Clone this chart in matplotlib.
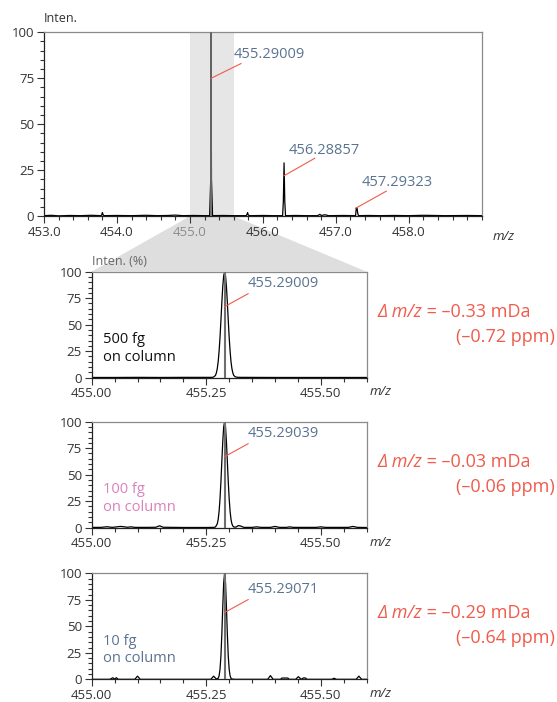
import numpy as np
import matplotlib.pyplot as plt
from matplotlib.ticker import MultipleLocator, FixedLocator
from matplotlib.patches import Polygon

plt.rcParams['font.family'] = ['Open Sans', 'DejaVu Sans']

# Full spectrum (m/z, relative intensity)
top_mz = [453.00, 453.10, 453.20, 453.35, 453.50, 453.65, 453.78, 453.79, 453.80, 453.81,
          453.82, 454.00, 454.20, 454.40, 454.55, 454.70, 454.80, 454.90, 455.05, 455.20,
          455.27, 455.285, 455.29, 455.295, 455.31, 455.45, 455.60, 455.77, 455.78, 455.79,
          455.80, 455.82, 456.00, 456.15, 456.27, 456.28, 456.29, 456.30, 456.31, 456.45,
          456.60, 456.75, 456.78, 456.80, 456.85, 456.90, 457.10, 457.27, 457.28, 457.29,
          457.30, 457.31, 457.45, 457.60, 457.80, 458.00, 458.20, 458.50, 458.80, 459.00]
top_int = [0.3, 0.5, 0.2, 0.4, 0.3, 0.5, 0.3, 0.6, 2.0, 0.8,
           0.3, 0.4, 0.3, 0.5, 0.3, 0.4, 0.6, 0.3, 0.4, 0.3,
           0.3, 20, 100, 20, 0.3, 0.4, 0.3, 0.3, 0.8, 2.0,
           0.6, 0.3, 0.4, 0.3, 0.3, 8, 29, 8, 0.3, 0.4,
           0.3, 0.3, 1.0, 0.4, 0.8, 0.3, 0.4, 0.3, 4.5, 4.5,
           1.5, 0.3, 0.4, 0.3, 0.4, 0.3, 0.5, 0.3, 0.4, 0.3]
top_labels = ['455.29009', '456.28857', '457.29323']
top_label_mz = [455.29, 456.29, 457.27]
top_label_int = [75, 22, 4.3]
top_line_end_mz = [455.70, 456.71, 457.69]
top_line_end_int = [83, 31.5, 13.6]
top_text_mz = [455.605, 456.356, 457.35]
top_text_int = [88, 36, 18.5]
top_ticks = [453.0, 454.0, 455.0, 456.0, 457.0, 458.0]

# Zoomed profiles for 500 fg, 100 fg and 10 fg on column
p1_mz = [455.000, 455.050, 455.100, 455.150, 455.200, 455.250, 455.262, 455.266, 455.270, 455.272,
         455.274, 455.276, 455.278, 455.280, 455.282, 455.284, 455.286, 455.288, 455.290, 455.292,
         455.294, 455.296, 455.298, 455.300, 455.302, 455.304, 455.306, 455.308, 455.310, 455.313,
         455.317, 455.325, 455.400, 455.500, 455.600]
p1_int = [0.2, 0.2, 0.3, 0.2, 0.3, 0.3, 0.3, 0.6, 2.1, 4.4,
          8.5, 15, 25, 38, 54, 71, 86, 96, 100, 96,
          86, 71, 54, 38, 25, 15, 8.5, 4.4, 2.1, 0.9,
          0.4, 0.3, 0.2, 0.2, 0.2]

p2_mz = [455.000, 455.020, 455.033, 455.045, 455.055, 455.062, 455.070, 455.078, 455.085, 455.095,
         455.120, 455.140, 455.148, 455.156, 455.200, 455.250, 455.266, 455.270, 455.274, 455.276,
         455.278, 455.280, 455.282, 455.284, 455.286, 455.288, 455.290, 455.292, 455.294, 455.296,
         455.298, 455.300, 455.302, 455.304, 455.306, 455.308, 455.311, 455.315, 455.320, 455.325,
         455.332, 455.350, 455.360, 455.370, 455.390, 455.400, 455.410, 455.425, 455.432, 455.440,
         455.490, 455.500, 455.510, 455.560, 455.570, 455.580, 455.600]
p2_int = [0.3, 0.3, 0.9, 0.3, 0.8, 1.2, 0.9, 0.4, 0.8, 0.3,
          0.3, 0.4, 1.8, 0.4, 0.2, 0.2, 0.3, 0.6, 3.6, 7.8,
          15.4, 27.3, 43.5, 62.6, 81.2, 95, 100, 95, 81.2, 62.6,
          43.5, 27.3, 15.4, 7.8, 3.6, 1.5, 0.5, 0.6, 2.0, 1.6,
          0.3, 0.3, 0.8, 0.3, 0.3, 1.2, 0.3, 0.3, 0.8, 0.3,
          0.3, 0.8, 0.3, 0.3, 1.2, 0.3, 0.2]

p3_mz = [455.000, 455.040, 455.046, 455.050, 455.054, 455.058, 455.094, 455.100, 455.106, 455.260,
         455.266, 455.272, 455.276, 455.278, 455.280, 455.282, 455.284, 455.286, 455.288, 455.290,
         455.292, 455.294, 455.296, 455.298, 455.300, 455.302, 455.304, 455.306, 455.312, 455.384,
         455.390, 455.396, 455.412, 455.415, 455.428, 455.431, 455.445, 455.451, 455.457, 455.462,
         455.466, 455.470, 455.524, 455.529, 455.534, 455.577, 455.583, 455.589, 455.600]
p3_int = [0, 0, 1.5, 0.3, 1.5, 0, 0, 3, 0, 0,
          3, 0.3, 1.0, 3.3, 9.4, 22, 42.7, 68.5, 91, 100,
          91, 68.5, 42.7, 22, 9.4, 3.3, 1.0, 0.3, 0, 0,
          3.5, 0, 0, 1.2, 1.2, 0, 0, 2.5, 0, 1.3,
          1.3, 0, 0, 1.0, 0, 0, 3.0, 0, 0]

panel_mz = [p1_mz, p2_mz, p3_mz]
panel_int = [p1_int, p2_int, p3_int]
panel_centroid = [455.290, 455.290, 455.290]
panel_labels = ['455.29009', '455.29039', '455.29071']
panel_amounts = ['500 fg\non column', '100 fg\non column', '10 fg\non column']
panel_amount_colors = ['#111111', '#d982bd', '#5b7390']
panel_delta_mda = ['–0.33 mDa', '–0.03 mDa', '–0.29 mDa']
panel_delta_ppm = ['(–0.72 ppm)', '(–0.06 ppm)', '(–0.64 ppm)']
panel_label_int = [67, 67, 63]
panel_ticks = [455.00, 455.25, 455.50]
zoom_range = (455.0, 455.6)

label_color = '#5b7390'
red = '#f05b4b'
tick_color = '#333333'


def style_axes(ax):
    ax.tick_params(which='both', direction='out', colors=tick_color, labelsize=9.5, width=0.8)
    ax.tick_params(which='major', length=5, pad=2)
    ax.tick_params(which='minor', length=2.8)
    ax.tick_params(axis='x', which='both', top=False)
    ax.tick_params(axis='y', which='both', right=False)
    ax.spines['left'].set_color('#222222')
    ax.spines['bottom'].set_color('#222222')
    ax.spines['top'].set_color('#8a8a8a')
    ax.spines['right'].set_color('#8a8a8a')
    for s in ax.spines.values():
        s.set_linewidth(0.9)
    ax.set_ylim(0, 100)
    ax.yaxis.set_major_locator(FixedLocator([0, 25, 50, 75, 100]))
    ax.yaxis.set_minor_locator(MultipleLocator(5))


fig = plt.figure(figsize=(5.57, 7.02), dpi=100)

# Top: full spectrum
ax_top = fig.add_axes([0.079, 0.692, 0.786, 0.262])
style_axes(ax_top)
ax_top.axvspan(zoom_range[0], zoom_range[1], color='#e6e6e6', zorder=0, lw=0)
ax_top.plot(top_mz, top_int, color='black', lw=0.9, zorder=2)
ax_top.vlines(top_label_mz[0], 0, max(top_int), color='#6e6e6e', lw=1.3, zorder=3)
ax_top.set_xlim(453.0, 459.0)
ax_top.xaxis.set_major_locator(FixedLocator(top_ticks))
ax_top.xaxis.set_minor_locator(MultipleLocator(0.2))
ax_top.set_xticklabels(['%.1f' % t for t in top_ticks])
ax_top.get_xticklabels()[2].set_color('#8c8c8c')
ax_top.text(0.0, 1.075, 'Inten.', transform=ax_top.transAxes, fontsize=9, color='#333333',
            ha='left', va='center')
ax_top.text(1.025, -0.112, 'm/z', transform=ax_top.transAxes, fontsize=9.5, style='italic',
            color='#333333', ha='left', va='center')
for i in range(3):
    ax_top.plot([top_label_mz[i], top_line_end_mz[i]], [top_label_int[i], top_line_end_int[i]],
                color=red, lw=0.8, zorder=4)
    ax_top.text(top_text_mz[i], top_text_int[i], top_labels[i], fontsize=10.5,
                color=label_color, ha='left', va='center')

# Zoomed panels
panel_bottoms = [0.462, 0.2483, 0.0323]
panels = []
for i in range(3):
    ax = fig.add_axes([0.1646, panel_bottoms[i], 0.4937, 0.151])
    style_axes(ax)
    ax.plot(panel_mz[i], panel_int[i], color='black', lw=0.9, zorder=2)
    ax.vlines(panel_centroid[i], 0, 100, color='#6e6e6e', lw=1.5, zorder=3)
    ax.set_xlim(*zoom_range)
    ax.xaxis.set_major_locator(FixedLocator(panel_ticks))
    ax.xaxis.set_minor_locator(MultipleLocator(0.05))
    ax.set_xticklabels(['%.2f' % t for t in panel_ticks])
    ax.text(1.012, -0.135, 'm/z', transform=ax.transAxes, fontsize=9.5, style='italic',
            color='#333333', ha='left', va='center')
    ax.text(0.04, 0.275, panel_amounts[i], transform=ax.transAxes, fontsize=10.5,
            color=panel_amount_colors[i], ha='left', va='center', linespacing=1.2)
    ax.annotate(panel_labels[i], xy=(panel_centroid[i], panel_label_int[i]),
                xytext=(455.340, panel_label_int[i] + 22), fontsize=10.5, color=label_color,
                ha='left', va='center',
                arrowprops=dict(arrowstyle='-', color=red, lw=0.8, relpos=(0.12, 0.1),
                                shrinkA=0, shrinkB=0))
    panels.append(ax)

panels[0].text(0.0, 1.03, 'Inten. (%)', transform=panels[0].transAxes, fontsize=9,
               color='#666666', ha='left', va='bottom', zorder=5)

# Grey fan linking the highlighted band to the first zoomed panel
to_fig = fig.transFigure.inverted()
p_a = to_fig.transform(ax_top.transData.transform((zoom_range[0], 0)))
p_b = to_fig.transform(ax_top.transData.transform((zoom_range[1], 0)))
p_c = to_fig.transform(panels[0].transAxes.transform((1, 1)))
p_d = to_fig.transform(panels[0].transAxes.transform((0, 1)))
fan = Polygon([p_a, p_b, p_c, p_d], closed=True, transform=fig.transFigure,
              facecolor='#dedede', edgecolor='none', zorder=-1)
fig.patches.append(fan)

# Mass error texts to the right of the panels
fig.canvas.draw()
renderer = fig.canvas.get_renderer()
delta_y1 = [311.7, 461.7, 612.7]
for i in range(3):
    y1 = 1 - delta_y1[i] / 702
    y2 = 1 - (delta_y1[i] + 25) / 702
    t1 = fig.text(0.6774, y1, 'Δ m/z', fontsize=13, style='italic', color=red,
                  ha='left', va='center')
    bb = t1.get_window_extent(renderer)
    fig.text(bb.x1 / fig.bbox.width, y1, ' = ' + panel_delta_mda[i], fontsize=13,
             color=red, ha='left', va='center')
    fig.text(0.9964, y2, panel_delta_ppm[i], fontsize=13, color=red, ha='right', va='center')

plt.savefig('out.png', dpi=100)
